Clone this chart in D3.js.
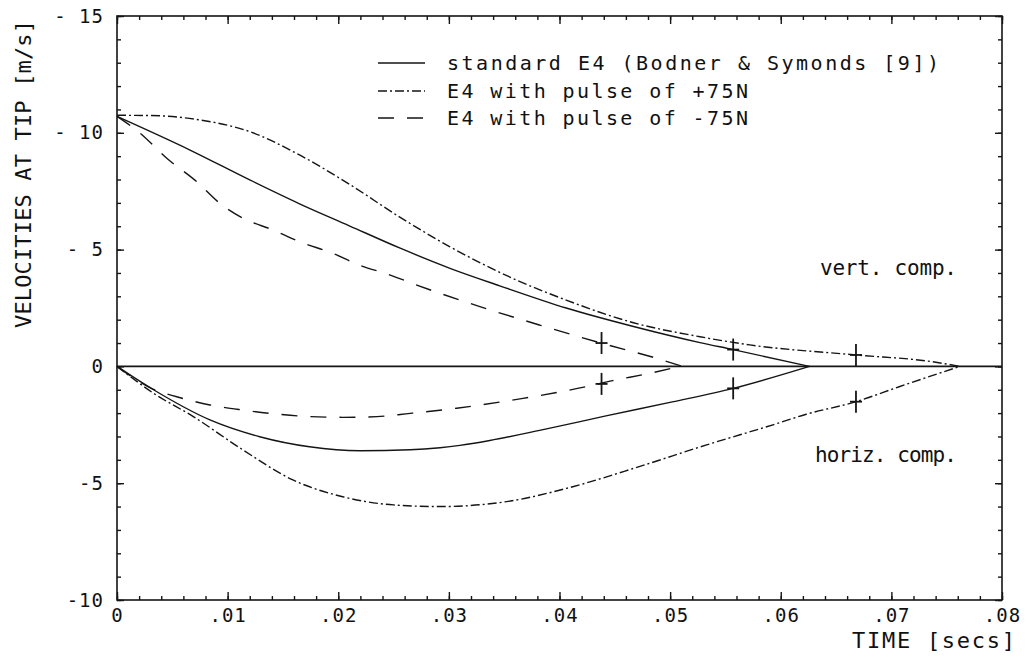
<html>
<head>
<title>Velocities at tip</title>
<style>
  body { margin: 0; background: #fff; }
  svg text { font-family: "DejaVu Sans Mono", monospace; fill: #111; }
</style>
</head>
<body>
<div id="chart"></div>
<script src="https://d3js.org/d3.v7.min.js"></script>
<script>
// tick values and labels
var xTicks = [0, 0.01, 0.02, 0.03, 0.04, 0.05, 0.06, 0.07, 0.08];
var xTickLabels = ["0", ".01", ".02", ".03", ".04", ".05", ".06", ".07", ".08"];
var yTicks = [15, 10, 5, 0, -5, -10];
var yTickLabels = ["- 15", "- 10", "- 5", "0", "-5", "-10"];

// standard E4 (solid)
var stdVertT = [0, 0.0066, 0.012, 0.0165, 0.021, 0.0256, 0.0301, 0.0346, 0.0406, 0.0466, 0.0527, 0.0557, 0.0626];
var stdVertV = [10.7, 9.26, 7.98, 6.96, 6.02, 5.06, 4.20, 3.45, 2.50, 1.72, 1.02, 0.72, 0];
var stdHorT = [0, 0.0033, 0.0084, 0.0129, 0.0174, 0.022, 0.0265, 0.0292, 0.031, 0.0337, 0.0382, 0.0442, 0.0502, 0.0557, 0.0626];
var stdHorV = [0, -1.0, -2.29, -3.01, -3.44, -3.61, -3.57, -3.48, -3.38, -3.17, -2.74, -2.12, -1.52, -0.94, 0];

// pulse of +75N (dash-dot)
var plusVertT = [0, 0.003, 0.0075, 0.012, 0.0165, 0.021, 0.0256, 0.0301, 0.0361, 0.0406, 0.0466, 0.0527, 0.0572, 0.0668, 0.0737, 0.0762];
var plusVertV = [10.75, 10.74, 10.55, 10.05, 9.05, 7.80, 6.38, 5.12, 3.70, 2.84, 1.88, 1.27, 0.92, 0.49, 0.20, 0];
var plusHorT = [0, 0.0033, 0.0069, 0.0114, 0.0159, 0.0204, 0.025, 0.0292, 0.0352, 0.0412, 0.0472, 0.0533, 0.0593, 0.0623, 0.0668, 0.0707, 0.0762];
var plusHorV = [0, -1.15, -2.15, -3.58, -4.86, -5.58, -5.93, -6.0, -5.79, -5.15, -4.29, -3.36, -2.50, -2.05, -1.51, -0.87, 0];

// pulse of -75N (dashed)
var minusVertT = [0, 0.0021, 0.0045, 0.0072, 0.0093, 0.0114, 0.0141, 0.0165, 0.0195, 0.0219, 0.0247, 0.0271, 0.0328, 0.0382, 0.0436, 0.0491, 0.0511];
var minusVertV = [10.7, 9.98, 8.91, 7.91, 6.98, 6.34, 5.84, 5.34, 4.84, 4.34, 3.91, 3.48, 2.56, 1.77, 1.02, 0.30, 0];
var minusHorT = [0, 0.0033, 0.0054, 0.0084, 0.0114, 0.0144, 0.0174, 0.0204, 0.0235, 0.0265, 0.0307, 0.0367, 0.0424, 0.0448, 0.0478, 0.0509];
var minusHorV = [0, -0.98, -1.30, -1.65, -1.87, -2.04, -2.15, -2.18, -2.15, -2.01, -1.79, -1.37, -0.87, -0.61, -0.33, 0];

// "+" marks on the curves
var markT = [0.0438, 0.0557, 0.0668];
var markVert = [1.0, 0.72, 0.49];
var markHor = [-0.75, -0.94, -1.51];

var legendLabels = ["standard E4 (Bodner & Symonds [9])", "E4 with pulse of +75N", "E4 with pulse of -75N"];

var W = 1025, H = 663;
var mLeft = 117, mRight = 1002, mTop = 16, mBottom = 600;

var svg = d3.select('#chart').append('svg')
    .attr('width', W).attr('height', H);

var x = d3.scaleLinear().domain([0, 0.08]).range([mLeft, mRight]);
var y = d3.scaleLinear().domain([-10, 15]).range([mBottom, mTop]);

var ink = '#151515';

// minor ticks on all sides
var xMinor = d3.range(0, 0.0801, 0.002);
var yMinor = d3.range(-10, 15.01, 1);
function tickAxis(axis, tr, size, vals) {
    var g = svg.append('g').attr('transform', tr)
        .call(axis.tickValues(vals).tickSize(size).tickFormat(''));
    g.select('.domain').remove();
    g.selectAll('line').attr('stroke', ink).attr('stroke-width', 1.4);
    return g;
}
tickAxis(d3.axisBottom(x), 'translate(0,' + mBottom + ')', -4, xMinor);
tickAxis(d3.axisTop(x), 'translate(0,' + mTop + ')', -4, xMinor);
tickAxis(d3.axisLeft(y), 'translate(' + mLeft + ',0)', -4, yMinor);
tickAxis(d3.axisRight(y), 'translate(' + mRight + ',0)', -4, yMinor);
tickAxis(d3.axisTop(x), 'translate(0,' + mTop + ')', -8, xTicks);
tickAxis(d3.axisRight(y), 'translate(' + mRight + ',0)', -7, yTicks);

// labelled axes
var gx = svg.append('g').attr('transform', 'translate(0,' + mBottom + ')')
    .call(d3.axisBottom(x).tickValues(xTicks).tickSize(-8).tickPadding(9)
        .tickFormat(function (d, i) { return xTickLabels[i]; }));
var gy = svg.append('g').attr('transform', 'translate(' + mLeft + ',0)')
    .call(d3.axisLeft(y).tickValues(yTicks).tickSize(-7).tickPadding(13)
        .tickFormat(function (d, i) { return yTickLabels[i]; }));
[gx, gy].forEach(function (g) {
    g.select('.domain').remove();
    g.selectAll('line').attr('stroke', ink).attr('stroke-width', 1.4);
    g.selectAll('text').style('font-family', '"DejaVu Sans Mono", monospace')
        .style('font-size', '19px').attr('fill', ink).attr('letter-spacing', 1);
});

// frame
svg.append('rect')
    .attr('x', mLeft).attr('y', mTop)
    .attr('width', mRight - mLeft).attr('height', mBottom - mTop)
    .attr('fill', 'none').attr('stroke', ink).attr('stroke-width', 1.6);

// zero line
svg.append('line')
    .attr('x1', x(0)).attr('x2', x(0.08))
    .attr('y1', y(0)).attr('y2', y(0))
    .attr('stroke', ink).attr('stroke-width', 1.6);

var line = d3.line()
    .x(function (d) { return x(d[0]); })
    .y(function (d) { return y(d[1]); })
    .curve(d3.curveMonotoneX);

var styles = [
    { dash: null },
    { dash: '9,3,2,3' },
    { dash: '16,13' }
];

var series = [
    [stdVertT, stdVertV, 0], [stdHorT, stdHorV, 0],
    [plusVertT, plusVertV, 1], [plusHorT, plusHorV, 1],
    [minusVertT, minusVertV, 2], [minusHorT, minusHorV, 2]
];

series.forEach(function (s) {
    var pts = d3.zip(s[0], s[1]);
    svg.append('path')
        .attr('d', line(pts))
        .attr('fill', 'none')
        .attr('stroke', ink)
        .attr('stroke-width', 1.4)
        .attr('stroke-dasharray', styles[s[2]].dash);
});

// plus marks
markT.forEach(function (t, i) {
    [markVert[i], markHor[i]].forEach(function (v) {
        var cx = x(t), cy = y(v);
        svg.append('line').attr('x1', cx).attr('x2', cx)
            .attr('y1', cy - 11).attr('y2', cy + 11)
            .attr('stroke', ink).attr('stroke-width', 1.8);
        svg.append('line').attr('x1', cx - 6).attr('x2', cx + 6)
            .attr('y1', cy).attr('y2', cy)
            .attr('stroke', ink).attr('stroke-width', 1.8);
    });
});

// legend
var legendY = [63, 91, 118];
var legendW = [492, 301, 301];
legendLabels.forEach(function (lab, i) {
    svg.append('line')
        .attr('x1', 378).attr('x2', 425)
        .attr('y1', legendY[i]).attr('y2', legendY[i])
        .attr('stroke', ink).attr('stroke-width', 1.6)
        .attr('stroke-dasharray', styles[i].dash);
    svg.append('text')
        .attr('x', 447).attr('y', legendY[i] + 7)
        .attr('textLength', legendW[i]).attr('lengthAdjust', 'spacing')
        .style('font-size', '20px')
        .text(lab);
});

// annotations
svg.append('text').attr('x', 820).attr('y', 275)
    .attr('textLength', 137).attr('lengthAdjust', 'spacing')
    .style('font-size', '21px').text('vert. comp.');
svg.append('text').attr('x', 815).attr('y', 462)
    .attr('textLength', 142).attr('lengthAdjust', 'spacing')
    .style('font-size', '21px').text('horiz. comp.');

// axis titles
svg.append('text').attr('x', 852).attr('y', 648)
    .attr('textLength', 163).attr('lengthAdjust', 'spacing')
    .style('font-size', '22px').text('TIME [secs]');
svg.append('text')
    .attr('transform', 'translate(31,328) rotate(-90)')
    .attr('textLength', 308).attr('lengthAdjust', 'spacing')
    .style('font-size', '22px').text('VELOCITIES AT TIP [m/s]');
</script>
</body>
</html>
